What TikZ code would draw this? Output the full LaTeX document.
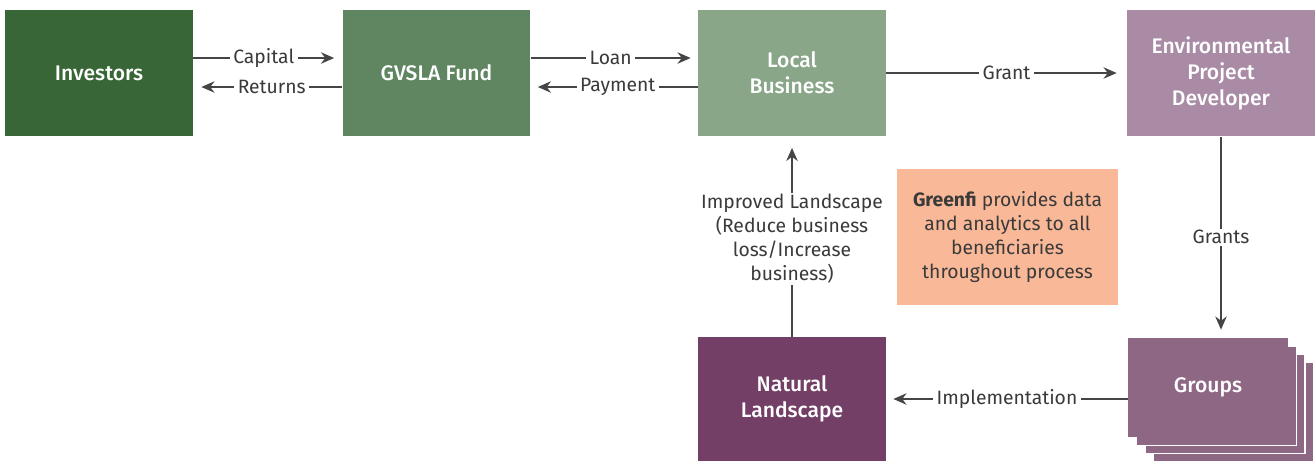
\documentclass[tikz,border=0pt]{standalone}
\usepackage{fontspec}
\setmainfont{Fira Sans}[BoldFont={Fira Sans Medium}]
\newfontface\greenfibold{Fira Sans Bold}
\usetikzlibrary{arrows.meta}

\definecolor{invgreen}{HTML}{386636}
\definecolor{fundgreen}{HTML}{5F8561}
\definecolor{bizgreen}{HTML}{8AA689}
\definecolor{devmauve}{HTML}{A98BA6}
\definecolor{natplum}{HTML}{733F67}
\definecolor{grpmauve}{HTML}{8E6784}
\definecolor{greenfiorange}{HTML}{F9B998}
\definecolor{linegray}{HTML}{454545}
\definecolor{textgray}{HTML}{3A3A3A}

\begin{document}
\begin{tikzpicture}[x=0.02cm, y=-0.02cm,
  font=\fontsize{11}{13.6}\selectfont,
  box/.style={rectangle, text=white, font=\fontsize{12}{14.8}\selectfont\bfseries, align=center, inner sep=0pt, minimum width=3.76cm, minimum height=2.54cm},
  flow/.style={-{Stealth[length=7.5pt, width=6.5pt]}, draw=linegray, line width=1.1pt},
  lbl/.style={fill=white, text=textgray, inner xsep=2pt, inner ysep=1pt, align=center}]
\useasboundingbox (0,0) rectangle (1315,461);

\draw node[box, fill=invgreen] (inv) at (99,73) {Investors};
\draw node[box, fill=fundgreen] (fund) at (436.5,73) {GVSLA Fund};
\draw node[box, fill=bizgreen] (biz) at (792,73) {Local\\Business};
\draw node[box, fill=devmauve] (dev) at (1221,73) {Environmental\\Project\\Developer};
\draw node[box, fill=natplum, minimum height=2.48cm] (nat) at (792,399) {Natural\\Landscape};

\foreach \x/\y in {1233.5/412, 1225/404, 1216.5/396}
	\draw[fill=grpmauve, draw=white, line width=0.9pt] (\x-80,\y-49.5) rectangle (\x+80,\y+49.5);
\draw node[box, fill=grpmauve, minimum width=3.2cm, minimum height=1.98cm] (groups) at (1208,387.5) {Groups};

\draw node[fill=greenfiorange, text=textgray, align=center, minimum width=4.42cm, minimum height=2.72cm] (greenfi) at (1007.5,237)
	{{\greenfibold Greenfi} provides data\\and analytics to all\\beneficiaries\\throughout process};

\draw[flow] ([yshift=0.3cm]inv.east) -- ([yshift=0.3cm, xshift=-0.16cm]fund.west) node[lbl, midway] {Capital};
\draw[flow] ([yshift=-0.28cm]fund.west) -- ([yshift=-0.28cm, xshift=0.16cm]inv.east) node[lbl, midway] {Returns};
\draw[flow] ([yshift=0.3cm]fund.east) -- ([yshift=0.3cm, xshift=-0.14cm]biz.west) node[lbl, midway] {Loan};
\draw[flow] ([yshift=-0.28cm]biz.west) -- ([yshift=-0.28cm, xshift=0.14cm]fund.east) node[lbl, midway] {Payment};
\draw[flow, shorten >=0.2cm] (biz.east) -- (dev.west) node[lbl, midway] {Grant};
\draw[flow, shorten >=0.16cm] (dev.south) -- (dev.south |- groups.north) node[lbl, midway] {Grants};
\draw[flow, shorten >=0.14cm] (groups.west |- nat.east) -- (nat.east) node[lbl, midway] {Implementation};
\draw[flow, shorten >=0.22cm] (nat.north) -- (biz.south)
	node[lbl, pos=0.49] {Improved Landscape\\(Reduce business\\loss/Increase\\business)};

\end{tikzpicture}
\end{document}
